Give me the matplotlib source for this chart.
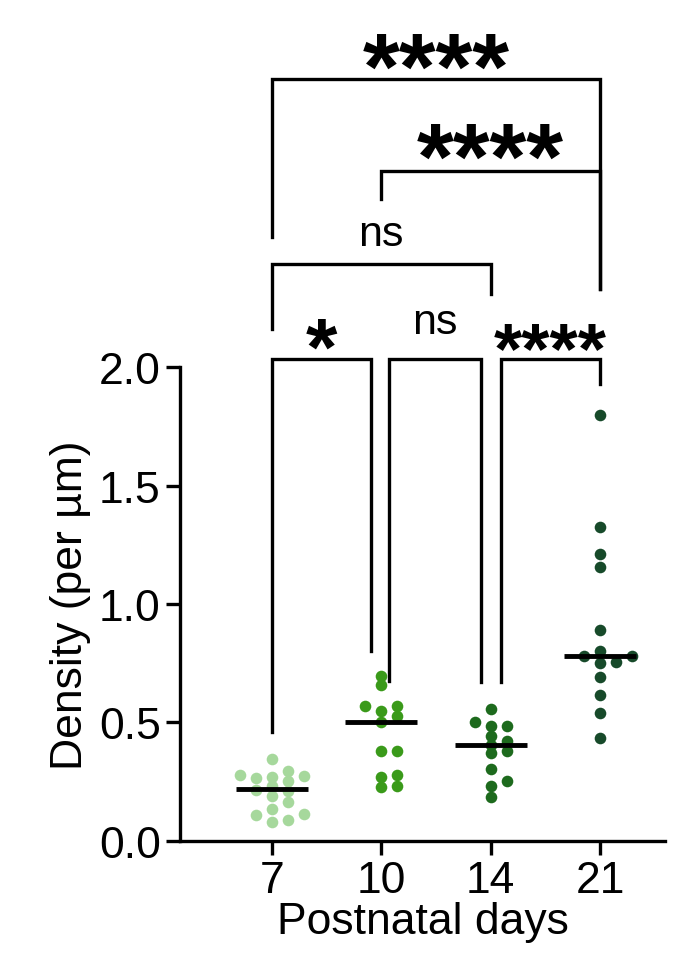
import matplotlib
matplotlib.use("Agg")
import matplotlib.pyplot as plt
import numpy as np

plt.rcParams['font.family'] = 'Liberation Sans'

categories = ['7', '10', '14', '21']
p7 = [0.346, 0.278, 0.264, 0.273, 0.297, 0.255, 0.269, 0.212, 0.217, 0.233, 0.191, 0.163, 0.135, 0.110, 0.114, 0.090, 0.082]
p10 = [0.698, 0.658, 0.547, 0.571, 0.571, 0.529, 0.501, 0.381, 0.381, 0.269, 0.278, 0.233, 0.229]
p14 = [0.557, 0.487, 0.487, 0.503, 0.444, 0.421, 0.406, 0.370, 0.381, 0.304, 0.252, 0.233, 0.187]
p21 = [1.799, 1.326, 1.211, 1.155, 0.892, 0.800, 0.782, 0.782, 0.751, 0.757, 0.691, 0.617, 0.540, 0.435]
medians = [0.219, 0.501, 0.406, 0.782]
colors = ['#a6d89c', '#3a9a1a', '#1d6a1d', '#174a2a']
series = [p7, p10, p14, p21]

fig = plt.figure(figsize=(6.96, 9.79), dpi=100)
ax = fig.add_axes([0.259, 0.140, 0.696, 0.484])
ax.set_xlim(-0.836, 3.59)
ax.set_ylim(0, 2.0)

def swarm(vals, dx=0.145, dy=0.036):
    order = np.argsort(vals)
    placed = []
    xs = np.zeros(len(vals))
    for i in order:
        y = vals[i]
        cands = [0]
        for k in range(1, 8):
            cands += [k * dx / 2, -k * dx / 2]
        for c in cands:
            ok = True
            for (px, py) in placed:
                if ((c - px) / dx) ** 2 + ((y - py) / dy) ** 2 < 1:
                    ok = False
                    break
            if ok:
                xs[i] = c
                placed.append((c, y))
                break
    return xs

for i, vals in enumerate(series):
    offs = swarm(vals)
    ax.scatter(i + offs, vals, s=70, color=colors[i], zorder=3, linewidths=0)
    ax.plot([i - 0.33, i + 0.33], [medians[i]] * 2, color='black', lw=3.5, zorder=4, solid_capstyle='butt')

for s in ['top', 'right']:
    ax.spines[s].set_visible(False)
for s in ['left', 'bottom']:
    ax.spines[s].set_linewidth(2.4)
ax.set_xticks(range(4))
ax.set_xticklabels(categories)
ax.set_yticks([0, 0.5, 1.0, 1.5, 2.0])
ax.set_yticklabels(['0.0', '0.5', '1.0', '1.5', '2.0'])
ax.tick_params(labelsize=32, width=2.4, length=10, pad=4)
ax.set_ylabel('Density (per µm)', fontsize=32, labelpad=6)
ax.set_xlabel('Postnatal days', fontsize=32, labelpad=0)

def bracket(x1, x2, top, y1, y2, label, ty, fs, weight='normal'):
    ax.plot([x1, x1, x2, x2], [y1, top, top, y2], color='black', lw=2.4, clip_on=False, solid_joinstyle='miter')
    ax.text((x1 + x2) / 2, ty, label, ha='center', va='center', fontsize=fs, fontweight=weight, clip_on=False)

bracket(0, 0.91, 2.034, 0.461, 0.802, '*', 2.06, 58, 'bold')
bracket(1.07, 1.91, 2.034, 0.675, 0.671, 'ns', 2.19, 31)
bracket(2.09, 3.0, 2.034, 0.671, 1.928, '****', 2.06, 52, 'bold')
bracket(0, 2.0, 2.435, 2.160, 2.308, 'ns', 2.56, 31)
bracket(1.0, 3.0, 2.827, 2.709, 2.329, '****', 2.86, 68, 'bold')
bracket(0, 3.0, 3.215, 2.549, 2.329, '****', 3.24, 68, 'bold')

fig.savefig('out.png', dpi=100)
